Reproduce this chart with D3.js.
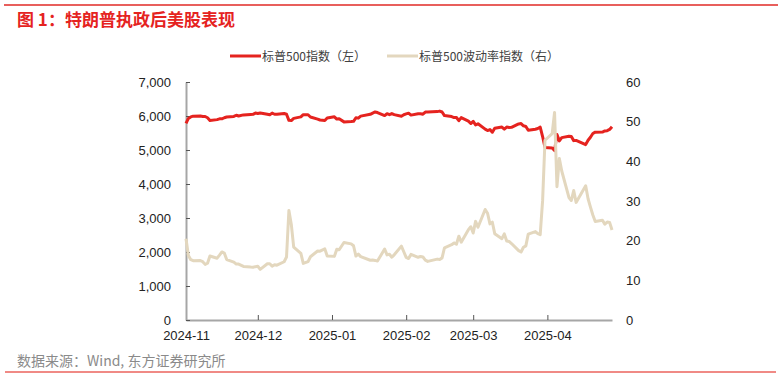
<!DOCTYPE html>
<html>
<head>
<meta charset="utf-8">
<script src="https://cdn.jsdelivr.net/npm/d3@7"></script>
<style>
  body { margin: 0; background: #fff; }
  text { font-family: "Liberation Sans", Arial, "Noto Sans CJK SC", sans-serif; }
</style>
</head>
<body>
<div id="chart"></div>
<script>
// trading days, Wind date axis starts on the first day (2024-11-05)
var dates = [
  "2024-11-05","2024-11-06","2024-11-07","2024-11-08","2024-11-11","2024-11-12","2024-11-13","2024-11-14","2024-11-15","2024-11-18","2024-11-19","2024-11-20","2024-11-21","2024-11-22","2024-11-25","2024-11-26","2024-11-27","2024-11-29",
  "2024-12-02","2024-12-03","2024-12-04","2024-12-05","2024-12-06","2024-12-09","2024-12-10","2024-12-11","2024-12-12","2024-12-13","2024-12-16","2024-12-17","2024-12-18","2024-12-19","2024-12-20","2024-12-23","2024-12-24","2024-12-26","2024-12-27","2024-12-30","2024-12-31",
  "2025-01-02","2025-01-03","2025-01-06","2025-01-07","2025-01-08","2025-01-10","2025-01-13","2025-01-14","2025-01-15","2025-01-16","2025-01-17","2025-01-21","2025-01-22","2025-01-23","2025-01-24","2025-01-27","2025-01-28","2025-01-29","2025-01-30","2025-01-31",
  "2025-02-03","2025-02-04","2025-02-05","2025-02-06","2025-02-07","2025-02-10","2025-02-11","2025-02-12","2025-02-13","2025-02-14","2025-02-18","2025-02-19","2025-02-20","2025-02-21","2025-02-24","2025-02-25","2025-02-26","2025-02-27","2025-02-28",
  "2025-03-03","2025-03-04","2025-03-05","2025-03-06","2025-03-07","2025-03-10","2025-03-11","2025-03-12","2025-03-13","2025-03-14","2025-03-17","2025-03-18","2025-03-19","2025-03-20","2025-03-21","2025-03-24","2025-03-25","2025-03-26","2025-03-27","2025-03-28","2025-03-31",
  "2025-04-01","2025-04-02","2025-04-03","2025-04-04","2025-04-07","2025-04-08","2025-04-09","2025-04-10","2025-04-11","2025-04-14","2025-04-15","2025-04-16","2025-04-17","2025-04-21","2025-04-22","2025-04-23","2025-04-24","2025-04-25","2025-04-28","2025-04-29","2025-04-30",
  "2025-05-01","2025-05-02"
];

// 标普500指数 (left axis)
var spx = [
  5782.76,5929.04,5973.10,5995.54,6001.35,5983.99,5985.38,5949.17,5870.62,5893.62,5916.98,5917.11,5948.71,5969.34,5987.37,6021.63,5998.74,6032.38,
  6047.15,6049.88,6086.49,6075.11,6090.27,6052.85,6034.91,6084.19,6051.25,6051.09,6074.08,6050.61,5872.16,5867.08,5930.85,5974.07,6040.04,6037.59,5970.84,5906.94,5881.63,
  5868.55,5942.47,5975.38,5909.03,5918.25,5827.04,5836.22,5842.91,5949.91,5937.34,5996.66,6049.24,6086.37,6118.71,6101.24,6012.28,6067.70,6039.31,6071.17,6040.53,
  5994.57,6037.88,6061.48,6083.57,6025.99,6066.44,6068.50,6051.97,6115.07,6114.63,6129.58,6144.15,6117.52,6013.13,5983.25,5955.25,5956.06,5861.57,5954.50,
  5849.72,5778.15,5842.63,5738.52,5770.20,5614.56,5572.07,5599.30,5521.52,5638.94,5675.12,5614.66,5675.29,5662.89,5667.56,5767.57,5776.65,5712.20,5693.31,5580.94,5611.85,
  5633.07,5670.97,5396.52,5074.08,5062.25,4982.77,5456.90,5268.05,5363.36,5405.97,5396.63,5275.70,5282.70,5158.20,5287.76,5375.86,5484.77,5525.21,5528.75,5560.83,5569.06,
  5604.14,5686.67
];

// 标普500波动率指数 (right axis)
var vix = [
  20.49,16.27,15.20,14.94,14.97,14.71,14.02,14.31,16.14,15.58,16.35,17.16,16.87,15.24,14.60,14.10,14.10,13.51,
  13.34,13.30,13.45,13.54,12.77,14.19,14.18,13.58,13.92,13.81,14.69,15.87,27.62,24.09,18.36,16.78,14.27,14.73,15.95,17.40,17.35,
  17.93,16.13,16.04,17.82,17.70,19.54,19.19,18.71,16.12,16.60,15.97,15.06,15.10,15.02,14.85,17.90,16.41,16.56,15.84,16.43,
  18.62,17.21,15.77,15.50,16.54,15.81,16.02,15.89,15.10,14.77,15.35,15.27,15.66,18.21,18.98,19.43,19.10,21.13,19.63,
  22.78,23.51,21.93,24.87,23.37,27.86,26.92,24.23,24.66,21.77,20.51,21.70,19.90,19.80,19.28,17.48,17.15,18.33,18.69,21.65,22.28,
  21.77,21.51,30.02,45.31,46.98,52.33,33.62,40.72,37.56,30.89,30.12,32.64,29.65,33.82,30.57,28.45,26.47,24.84,25.15,24.17,24.70,
  24.60,22.68
];

var xTicks = ["2024-11-05","2024-12-05","2025-01-05","2025-02-05","2025-03-05","2025-04-05"];
var leftTicks = [0, 1000, 2000, 3000, 4000, 5000, 6000, 7000];
var rightTicks = [0, 10, 20, 30, 40, 50, 60];
var seriesNames = ["标普500指数（左）", "标普500波动率指数（右）"];

var svgWidth = 782, svgHeight = 378;
var plot = { left: 186, right: 612, top: 82, bottom: 320 };
var red = "#e5231f", tan = "#e3d7be";

var parse = d3.timeParse("%Y-%m-%d");
var rows = dates.map(function(d, i) {
  return { date: parse(d), spx: spx[i], vix: vix[i] };
});

var svg = d3.select("#chart").append("svg")
  .attr("width", svgWidth)
  .attr("height", svgHeight);

// header / footer rules
svg.append("line").attr("x1", 4).attr("x2", 778).attr("y1", 5).attr("y2", 5)
  .attr("stroke", "#e02a26").attr("stroke-width", 1.5);
svg.append("text").attr("x", 17).attr("y", 26)
  .attr("font-size", "17px").attr("font-weight", 700).attr("fill", "#e5231f")
  .style("font-family", "'Noto Sans CJK SC', sans-serif")
  .text("图 1：特朗普执政后美股表现");

svg.append("line").attr("x1", 5).attr("x2", 776).attr("y1", 372).attr("y2", 372)
  .attr("stroke", "#f08a85").attr("stroke-width", 2);
svg.append("text").attr("x", 17).attr("y", 366)
  .attr("font-size", "14px").attr("fill", "#8a8a8a")
  .style("font-family", "'Noto Sans CJK SC', sans-serif")
  .text("数据来源：Wind, 东方证券研究所");

// scales
var x = d3.scaleTime()
  .domain([parse(dates[0]), parse(dates[dates.length - 1])])
  .range([plot.left, plot.right]);
var yL = d3.scaleLinear().domain([0, 7000]).range([plot.bottom, plot.top]);
var yR = d3.scaleLinear().domain([0, 60]).range([plot.bottom, plot.top]);

// axes
var xAxis = d3.axisBottom(x)
  .tickValues(xTicks.map(parse))
  .tickFormat(d3.timeFormat("%Y-%m"))
  .tickSizeInner(-5).tickSizeOuter(0).tickPadding(11);
var gx = svg.append("g").attr("transform", "translate(0," + plot.bottom + ")").call(xAxis);

var leftAxis = d3.axisLeft(yL)
  .tickValues(leftTicks)
  .tickFormat(d3.format(","))
  .tickSizeInner(-4).tickSizeOuter(0).tickPadding(15);
var gl = svg.append("g").attr("transform", "translate(" + plot.left + ",0)").call(leftAxis);

var rightAxis = d3.axisRight(yR)
  .tickValues(rightTicks)
  .tickSize(0).tickPadding(14);
var gr = svg.append("g").attr("transform", "translate(" + plot.right + ",0)").call(rightAxis);
gr.select(".domain").remove();

[gx, gl, gr].forEach(function(g) {
  g.selectAll("text").attr("font-size", "13px").attr("fill", "#222")
    .style("font-family", "'Liberation Sans', Arial, sans-serif");
  g.select(".domain").attr("stroke", "#a6a6a6").attr("stroke-width", 2);
  g.selectAll(".tick line").attr("stroke", "#555");
});
gx.selectAll(".tick").filter(function(d, i) { return i === 0; }).select("line").remove();

// lines
var spxLine = d3.line().x(function(d) { return x(d.date); }).y(function(d) { return yL(d.spx); });
var vixLine = d3.line().x(function(d) { return x(d.date); }).y(function(d) { return yR(d.vix); });

svg.append("path").datum(rows)
  .attr("d", spxLine).attr("fill", "none")
  .attr("stroke", red).attr("stroke-width", 3).attr("stroke-linejoin", "round");
svg.append("path").datum(rows)
  .attr("d", vixLine).attr("fill", "none")
  .attr("stroke", tan).attr("stroke-width", 3).attr("stroke-linejoin", "round");

// legend
var legend = [
  { name: seriesNames[0], color: red, x: 230 },
  { name: seriesNames[1], color: tan, x: 387 }
];
var lg = svg.selectAll(".legend").data(legend).enter().append("g")
  .attr("transform", function(d) { return "translate(" + d.x + ",56)"; });
lg.append("line").attr("x1", 0).attr("x2", 31).attr("y1", 0).attr("y2", 0)
  .attr("stroke", function(d) { return d.color; }).attr("stroke-width", 3);
lg.append("text").attr("x", 32).attr("y", 4.5)
  .attr("font-size", "12px").attr("fill", "#404040")
  .style("font-family", "'Noto Sans CJK SC', sans-serif")
  .text(function(d) { return d.name; });
</script>
</body>
</html>
